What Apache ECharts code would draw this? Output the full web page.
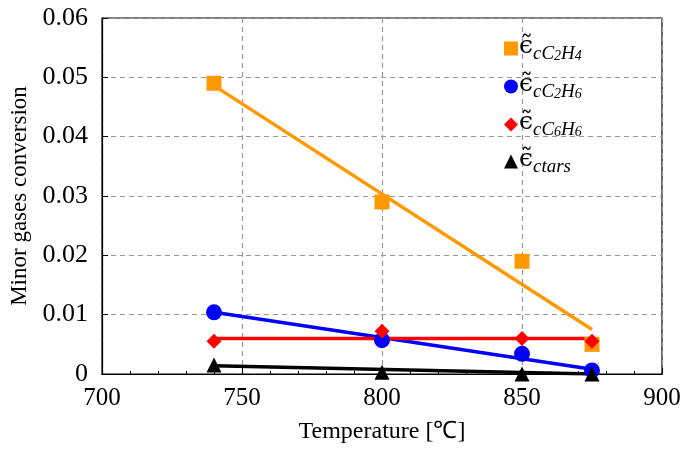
<!DOCTYPE html>
<html><head><meta charset="utf-8">
<script src="https://cdn.jsdelivr.net/npm/echarts@6/dist/echarts.min.js"></script>
<style>html,body{margin:0;padding:0;background:#fff}#c{width:685px;height:450px}</style>
</head><body><div id="c"></div>
<script>
const temps = [740, 800, 850, 875];
const c2h4 = [0.049, 0.029, 0.019, 0.005];
const c2h6 = [0.0104, 0.0057, 0.0034, 0.0006];
const c6h6 = [0.0055, 0.0072, 0.0060, 0.0055];
const tars = [0.0015, 0.0003, 0.0000, 0.0000];
const fitC2H4 = [[740, 0.0486], [875, 0.0075]];
const fitC2H6 = [[740, 0.0104], [875, 0.0008]];
const fitC6H6 = [[740, 0.0060], [875, 0.0060]];
const fitTars = [[740, 0.0014], [875, 0.0000]];
const xTicks = [700, 750, 800, 850, 900];
const yTicks = [0, 0.01, 0.02, 0.03, 0.04, 0.05, 0.06];

const font = 'Liberation Serif';
const pts = a => temps.map((t, i) => [t, a[i]]);
const chart = echarts.init(document.getElementById('c'));
const legendFmt = {
  'C2H4': '{e|ϵ̃}{s|c}{s|C}{ss|2}{s|H}{ss|4}',
  'C2H6': '{e|ϵ̃}{s|c}{s|C}{ss|2}{s|H}{ss|6}',
  'C6H6': '{e|ϵ̃}{s|c}{s|C}{ss|6}{s|H}{ss|6}',
  'tars': '{e|ϵ̃}{s|c}{s2|tars}'
};
chart.setOption({
  animation: false,
  grid: { left: 102, right: 23, top: 18, bottom: 76, show: true, borderColor: '#000', borderWidth: 1.2 },
  xAxis: {
    type: 'value', min: 700, max: 900, interval: 50,
    name: 'Temperature [℃]', nameLocation: 'middle', nameGap: 46,
    nameTextStyle: { fontFamily: font, fontSize: 24, color: '#000' },
    axisLine: { lineStyle: { color: '#000', width: 1.2 } },
    axisTick: { inside: true, length: 6, lineStyle: { color: '#000' } },
    minorTick: { show: true, splitNumber: 5, length: 3, lineStyle: { color: '#000' } },
    axisLabel: { fontFamily: font, fontSize: 25, color: '#000', margin: 12,
      formatter: v => xTicks.includes(v) ? String(v) : '' },
    splitLine: { lineStyle: { color: '#999', type: [5, 4], width: 1.2 } }
  },
  yAxis: {
    type: 'value', min: 0, max: 0.06, interval: 0.01,
    name: 'Minor gases conversion', nameLocation: 'middle', nameGap: 69,
    nameTextStyle: { fontFamily: font, fontSize: 23, color: '#000' },
    axisLine: { show: true, lineStyle: { color: '#000', width: 1.2 } },
    axisTick: { show: true, inside: true, length: 6, lineStyle: { color: '#000' } },
    axisLabel: { fontFamily: font, fontSize: 26, color: '#000', margin: 14,
      formatter: v => { const t = yTicks.find(y => Math.abs(y - v) < 1e-9); return t === 0 ? '0' : t.toFixed(2); } },
    splitLine: { lineStyle: { color: '#999', type: [5, 4], width: 1.2 } }
  },
  legend: {
    orient: 'vertical', left: 499, top: 26, itemGap: 6, itemWidth: 14, itemHeight: 14,
    data: [
      { name: 'C2H4', icon: 'rect' },
      { name: 'C2H6', icon: 'circle' },
      { name: 'C6H6', icon: 'diamond' },
      { name: 'tars', icon: 'triangle' }
    ],
    formatter: n => legendFmt[n],
    textStyle: {
      fontFamily: font, color: '#000', padding: [0, 0, 0, -4],
      rich: {
        e: { fontFamily: 'DejaVu Serif', fontSize: 25, verticalAlign: 'top', lineHeight: 29 },
        s: { fontFamily: font, fontSize: 19, fontStyle: 'italic', padding: [12, 0, 0, 0], lineHeight: 29, verticalAlign: 'bottom' },
        s2: { fontFamily: font, fontSize: 19, fontStyle: 'italic', padding: [12, 0, 0, 0], lineHeight: 29, verticalAlign: 'bottom' },
        ss: { fontFamily: font, fontSize: 14, fontStyle: 'italic', padding: [18, 0, 0, 0], lineHeight: 29, verticalAlign: 'bottom' }
      }
    }
  },
  series: [
    { type: 'line', data: fitC2H4, symbol: 'none', lineStyle: { color: '#FF9900', width: 3.5 }, z: 2 },
    { type: 'line', data: fitC2H6, symbol: 'none', lineStyle: { color: '#0000FF', width: 3.5 }, z: 2 },
    { type: 'line', data: fitC6H6, symbol: 'none', lineStyle: { color: '#FF0000', width: 3.5 }, z: 2 },
    { type: 'line', data: fitTars, symbol: 'none', lineStyle: { color: '#000000', width: 3.5 }, z: 2 },
    { name: 'C2H4', type: 'scatter', data: pts(c2h4), symbol: 'rect', symbolSize: 15, itemStyle: { color: '#FF9900', opacity: 1 }, z: 3 },
    { name: 'C2H6', type: 'scatter', data: pts(c2h6), symbol: 'circle', symbolSize: 16, itemStyle: { color: '#0000FF', opacity: 1 }, z: 3 },
    { name: 'C6H6', type: 'scatter', data: pts(c6h6), symbol: 'diamond', symbolSize: 15, itemStyle: { color: '#FF0000', opacity: 1 }, z: 4 },
    { name: 'tars', type: 'scatter', data: pts(tars), symbol: 'triangle', symbolSize: 15, itemStyle: { color: '#000000', opacity: 1 }, z: 4 }
  ]
});
</script></body></html>
